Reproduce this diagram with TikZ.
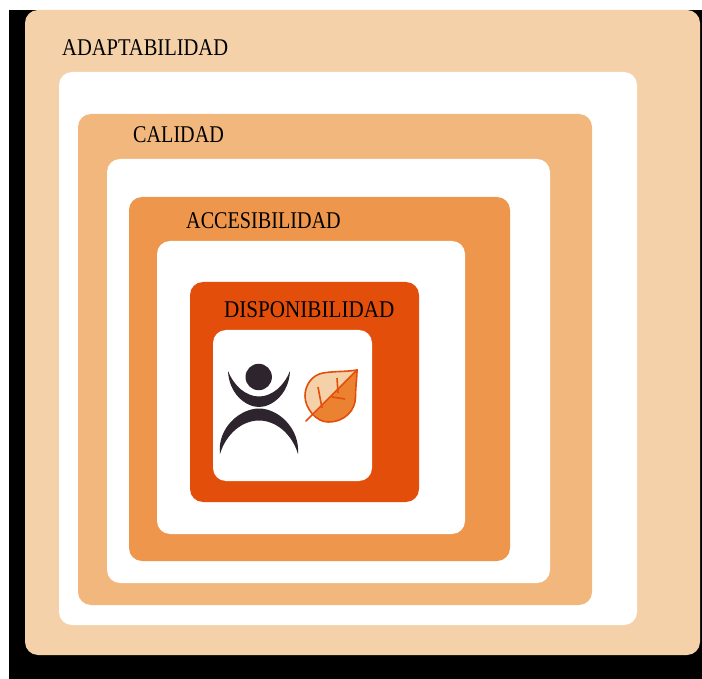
\documentclass[tikz,border=0pt]{standalone}
\usepackage{xcolor}
\usepackage{fontspec}
\setmainfont{Liberation Serif}
\definecolor{paleorange}{RGB}{245,209,169}
\definecolor{softorange}{RGB}{242,183,125}
\definecolor{midorange}{RGB}{238,150,75}
\definecolor{deeporange}{RGB}{227,78,10}
\definecolor{leaforange}{RGB}{235,130,50}
\definecolor{figuredark}{RGB}{45,36,46}
\tikzset{
    levelbox/.style={rounded corners=13pt},
    levellabel/.style={anchor=west, inner sep=0pt, font=\fontsize{24}{24}\selectfont},
    leafline/.style={draw=deeporange, line width=1.6pt}
}

\begin{document}
\begin{tikzpicture}[x=1pt,y=-1pt]
    \useasboundingbox (0,0) rectangle (702,679);
    % Black backdrop
    \fill[black] (9,10) rectangle (702,679);

    % ADAPTABILIDAD level
    \fill[paleorange, levelbox] (25,10) rectangle (700,655);
    \fill[white, levelbox] (59,72) rectangle (637,625);
    \node[levellabel] (adaptabilidad) at (62,48) {\scalebox{0.855}[1]{ADAPTABILIDAD}};

    % CALIDAD level
    \fill[softorange, levelbox] (78,114) rectangle (592,605);
    \fill[white, levelbox] (107,159) rectangle (550,583);
    \node[levellabel] (calidad) at (133,135) {\scalebox{0.84}[1]{CALIDAD}};

    % ACCESIBILIDAD level
    \fill[midorange, levelbox] (129,197) rectangle (510,561);
    \fill[white, levelbox] (157,241) rectangle (465,534);
    \node[levellabel] (accesibilidad) at (186,221) {\scalebox{0.84}[1]{ACCESIBILIDAD}};

    % DISPONIBILIDAD level
    \fill[deeporange, levelbox] (190,282) rectangle (419,502);
    \fill[white, levelbox] (213,330) rectangle (372,481);
    \node[levellabel] (disponibilidad) at (224,310) {\scalebox{0.88}[1]{DISPONIBILIDAD}};

    % Person
    \fill[figuredark] (258.7,377) circle (13.2);
    \fill[figuredark] (228,371) .. controls (229,394) and (246,407) .. (259,407)
        .. controls (272,407) and (289,394) .. (290,371)
        .. controls (284,386) and (272,396.5) .. (259,396.5)
        .. controls (246,396.5) and (234,386) .. (228,371) -- cycle;
    \fill[figuredark] (220,454) .. controls (217,428) and (240,408.5) .. (259,408.5)
        .. controls (278,408.5) and (300,428) .. (298,454)
        .. controls (292,434) and (276,420.5) .. (259,420.5)
        .. controls (242,420.5) and (226,434) .. (220,454) -- cycle;

    % Leaf
    \fill[paleorange] (357,370) .. controls (345,372) and (335,371) .. (323,373)
        .. controls (312,375) and (305,385) .. (305,396)
        .. controls (305,403) and (308,410) .. (314,414) -- cycle;
    \fill[leaforange] (357,370) .. controls (357,378) and (355.5,387) .. (355.5,397)
        .. controls (355.5,410) and (345,422) .. (328,422)
        .. controls (322,422) and (317,419) .. (314,414) -- cycle;
    \draw[leafline] (357,370) .. controls (345,372) and (335,371) .. (323,373)
        .. controls (312,375) and (305,385) .. (305,396)
        .. controls (305,408) and (316,422) .. (328,422)
        .. controls (345,422) and (355.5,410) .. (355.5,397)
        .. controls (355.5,387) and (357,378) .. (357,370) -- cycle;
    \draw[leafline, line cap=round] (357,370) -- (306,421);
    \draw[leafline] (318,387) -- (322,408);
    \draw[leafline] (337,378) -- (338,393);
    \draw[leafline] (332,397) -- (345,399);
\end{tikzpicture}
\end{document}
